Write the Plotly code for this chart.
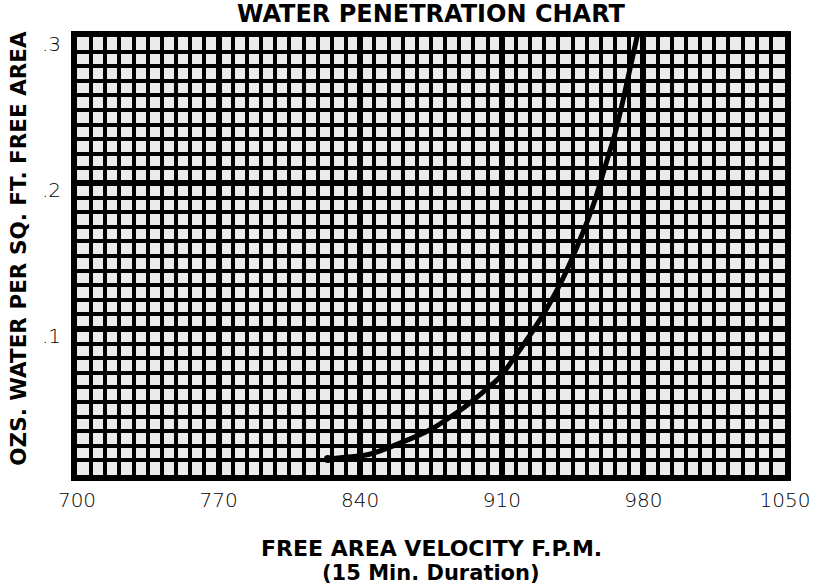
import plotly.graph_objects as go

# Data
velocity = [824, 844, 860, 876, 893, 909, 917, 925, 933, 940, 948, 956, 961, 966, 970, 977]
water = [0.011, 0.014, 0.022, 0.032, 0.048, 0.067, 0.082, 0.098, 0.116, 0.134, 0.159, 0.188, 0.211, 0.234, 0.257, 0.301]

x_ticks = [700, 770, 840, 910, 980, 1050]
x_labels = ["700", "770", "840", "910", "980", "1050"]
y_ticks = [0.1, 0.2, 0.3]
y_labels = [".1", ".2", ".3"]

title_text = "WATER PENETRATION CHART"
x_title_1 = "FREE AREA VELOCITY F.P.M."
x_title_2 = "(15 Min. Duration)"
y_title = "OZS. WATER PER SQ. FT. FREE AREA"

heavy = dict(family="DejaVu Sans", weight="bold", color="black")
light = dict(family="DejaVu Sans", weight=200, color="black", size=20)

fig = go.Figure()
fig.add_trace(go.Scatter(
    x=velocity, y=water, mode="lines",
    line=dict(color="black", width=5, shape="spline", smoothing=0.6),
    hoverinfo="skip", showlegend=False,
))
fig.add_trace(go.Scatter(
    x=velocity[:1], y=water[:1], mode="markers",
    marker=dict(color="black", size=8),
    hoverinfo="skip", showlegend=False,
))

fig.update_layout(
    width=822, height=586,
    margin=dict(l=77, r=30, t=37, b=111),
    paper_bgcolor="white",
    plot_bgcolor="#ebebeb",
    showlegend=False,
    xaxis=dict(
        range=[700, 1050], tickmode="array", tickvals=x_ticks, ticktext=x_labels,
        showgrid=True, gridcolor="black", gridwidth=6,
        minor=dict(dtick=7, tick0=700, showgrid=True, gridcolor="black", gridwidth=3.5),
        showline=True, linecolor="black", linewidth=6, mirror=True,
        zeroline=False, ticks="", tickfont=light, ticklabelstandoff=2,
        fixedrange=True,
    ),
    yaxis=dict(
        range=[0, 0.3], tickmode="array", tickvals=y_ticks, ticktext=y_labels,
        showgrid=True, gridcolor="black", gridwidth=6,
        minor=dict(dtick=0.01, tick0=0, showgrid=True, gridcolor="black", gridwidth=3.5),
        showline=True, linecolor="black", linewidth=6, mirror=True,
        zeroline=False, ticks="", tickfont=light, ticklabelstandoff=6,
        ticklabelshift=7,
        fixedrange=True,
    ),
    annotations=[
        dict(text=title_text, xref="paper", yref="paper", x=0.5, y=1.0525,
             xanchor="center", yanchor="middle", showarrow=False,
             font=dict(size=24, **heavy)),
        dict(text=x_title_1, xref="paper", yref="paper", x=0.5, y=-0.1667,
             xanchor="center", yanchor="middle", showarrow=False,
             font=dict(size=22, **heavy)),
        dict(text=x_title_2, xref="paper", yref="paper", x=0.5, y=-0.2237,
             xanchor="center", yanchor="middle", showarrow=False,
             font=dict(size=21, **heavy)),
        dict(text=y_title, xref="paper", yref="paper", x=-0.0825, y=0.518,
             xanchor="center", yanchor="middle", showarrow=False, textangle=-90,
             font=dict(size=21.5, **heavy)),
    ],
)

fig.write_html("out.html", config={"displayModeBar": False},
               post_script="document.body.style.margin='0';")
